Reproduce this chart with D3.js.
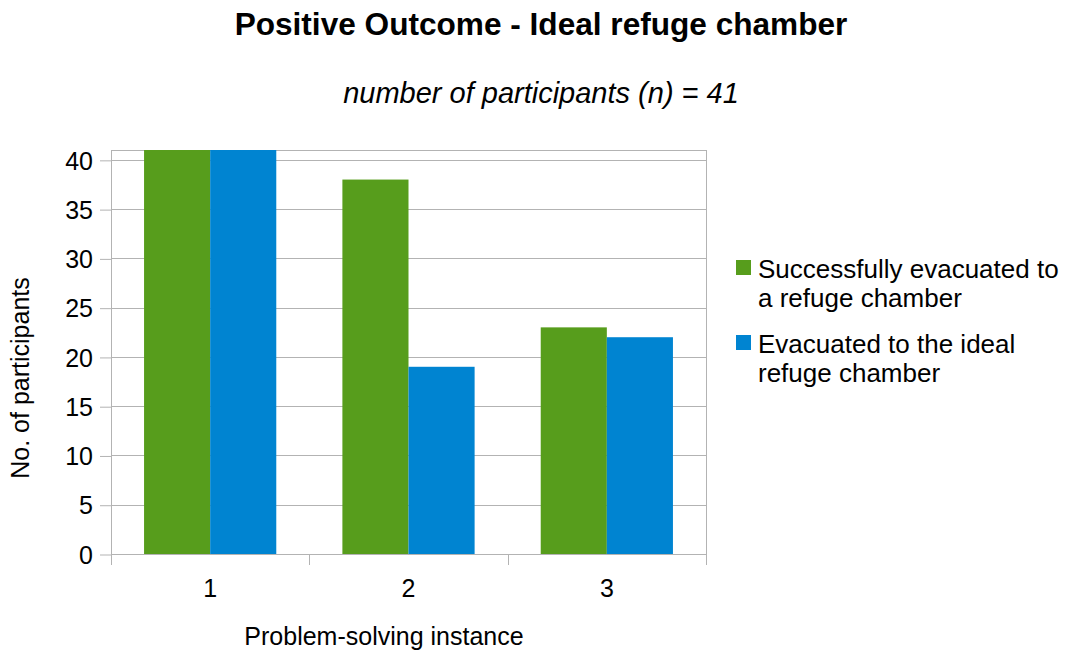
<!DOCTYPE html>
<html>
<head>
<meta charset="utf-8">
<script src="https://cdn.jsdelivr.net/npm/d3@7/dist/d3.min.js"></script>
<style>
  html, body { margin: 0; padding: 0; background: #fff; }
  svg { display: block; font-family: "Liberation Sans", Arial, sans-serif; }
</style>
</head>
<body>
<svg id="chart" width="1071" height="652"></svg>
<script>
// Problem-solving instances on the x axis
const instances = ["1", "2", "3"];
// Participants who reached any refuge chamber
const successfullyEvacuated = [41, 38, 23];
// Participants who reached the ideal refuge chamber
const idealEvacuated = [41, 19, 22];
const seriesLines = [["Successfully evacuated to", "a refuge chamber"], ["Evacuated to the ideal", "refuge chamber"]];
const yTicks = [0, 5, 10, 15, 20, 25, 30, 35, 40];
const colors = ["#579d1c", "#0084d1"];

const svg = d3.select("#chart");
const plot = { left: 111, right: 706, top: 150, bottom: 554 };

const x = d3.scaleBand().domain(instances).range([plot.left, plot.right]).paddingInner(0).paddingOuter(0);
const inner = d3.scaleBand().domain([0, 1])
  .range([0, x.bandwidth()]).paddingInner(0).paddingOuter(0.5);
const y = d3.scaleLinear().domain([0, 41]).range([plot.bottom, plot.top]);

// Horizontal grid lines
svg.append("g").selectAll("line").data(yTicks).join("line")
  .attr("x1", plot.left).attr("x2", plot.right)
  .attr("y1", d => Math.round(y(d)) + 0.5).attr("y2", d => Math.round(y(d)) + 0.5)
  .attr("stroke", "#b3b3b3").attr("stroke-width", 1);

// Plot frame
svg.append("rect").attr("x", plot.left + 0.5).attr("y", plot.top + 0.5)
  .attr("width", plot.right - plot.left).attr("height", plot.bottom - plot.top)
  .attr("fill", "none").attr("stroke", "#b3b3b3");

// Bars
const data = [successfullyEvacuated, idealEvacuated];
const groups = svg.append("g").selectAll("g").data(instances).join("g")
  .attr("transform", d => `translate(${x(d)},0)`);
groups.selectAll("rect").data((d, i) => data.map((s, j) => ({ j, v: s[i] }))).join("rect")
  .attr("x", d => inner(d.j)).attr("width", inner.bandwidth())
  .attr("y", d => y(d.v)).attr("height", d => y(0) - y(d.v))
  .attr("fill", d => colors[d.j]);

// Y axis
const yAxis = svg.append("g").attr("transform", `translate(${plot.left},0.5)`)
  .call(d3.axisLeft(y).tickValues(yTicks).tickSize(11).tickPadding(7));
yAxis.select(".domain").remove();
yAxis.selectAll("line").attr("stroke", "#b3b3b3");
yAxis.selectAll("text").attr("font-size", 25).attr("fill", "#000").attr("dy", "0.35em")
  .attr("font-family", "Liberation Sans, Arial, sans-serif");

// X axis: ticks sit at category boundaries
const xAxisG = svg.append("g").attr("transform", `translate(0,${plot.bottom})`);
const bounds = instances.map(d => x(d)).concat([x(instances[instances.length - 1]) + x.bandwidth()]);
xAxisG.selectAll("line").data(bounds).join("line")
  .attr("x1", d => Math.round(d) + 0.5).attr("x2", d => Math.round(d) + 0.5).attr("y1", 0).attr("y2", 11)
  .attr("stroke", "#b3b3b3");
xAxisG.selectAll("text").data(instances).join("text")
  .attr("x", d => x(d) + x.bandwidth() / 2).attr("y", 43)
  .attr("text-anchor", "middle").attr("font-size", 25).text(d => d);

// Titles
svg.append("text").attr("x", 541).attr("y", 35).attr("text-anchor", "middle")
  .attr("font-size", 31.6).attr("font-weight", "bold").text("Positive Outcome - Ideal refuge chamber");
svg.append("text").attr("x", 541).attr("y", 103).attr("text-anchor", "middle")
  .attr("font-size", 29).attr("font-style", "italic").text("number of participants (n) = 41");

// Axis titles
svg.append("text").attr("x", 384).attr("y", 645).attr("text-anchor", "middle")
  .attr("font-size", 25).text("Problem-solving instance");
svg.append("text").attr("transform", "translate(29,378) rotate(-90)").attr("text-anchor", "middle")
  .attr("font-size", 25).text("No. of participants");

// Legend
const legend = svg.append("g").selectAll("g").data(seriesLines).join("g")
  .attr("transform", (d, i) => `translate(736,${260 + i * 75})`);
legend.append("rect").attr("width", 15).attr("height", 15).attr("fill", (d, i) => colors[i]);
legend.selectAll("text").data(d => d).join("text")
  .attr("x", 22).attr("y", (d, k) => 18 + k * 29)
  .attr("font-size", 26).text(d => d);
</script>
</body>
</html>
